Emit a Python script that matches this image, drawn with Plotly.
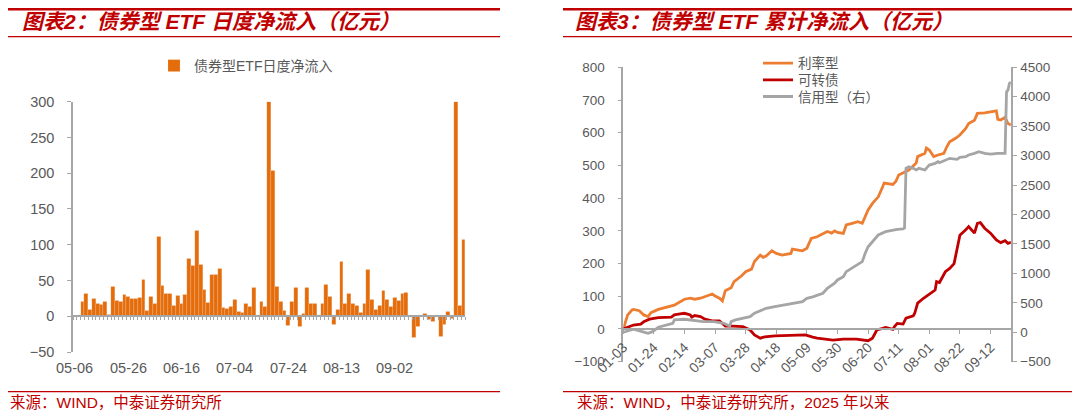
import plotly.graph_objects as go

# the page puts the figure 8px in from the top-left corner of the window
OFF = 8
W, H = 1080 - OFF, 416 - OFF

# ---- 图表2：债券型ETF日度净流入（亿元） ----
flow_dates = [
    "05-06", "05-07", "05-08", "05-09", "05-12", "05-13", "05-14", "05-15", "05-16", "05-19",
    "05-20", "05-21", "05-22", "05-23", "05-26", "05-27", "05-28", "05-29", "05-30",
    "06-03", "06-04", "06-05", "06-06", "06-09", "06-10", "06-11", "06-12", "06-13", "06-16",
    "06-17", "06-18", "06-19", "06-20", "06-23", "06-24", "06-25", "06-26", "06-27", "06-30",
    "07-01", "07-02", "07-03", "07-04", "07-07", "07-08", "07-09", "07-10", "07-11", "07-14",
    "07-15", "07-16", "07-17", "07-18", "07-21", "07-22", "07-23", "07-24", "07-25", "07-28",
    "07-29", "07-30", "07-31",
    "08-01", "08-04", "08-05", "08-06", "08-07", "08-08", "08-11", "08-12", "08-13", "08-14",
    "08-15", "08-18", "08-19", "08-20", "08-21", "08-22", "08-25", "08-26", "08-27", "08-28",
    "08-29",
    "09-01", "09-02", "09-03", "09-04", "09-05", "09-08", "09-09", "09-10", "09-11", "09-12",
    "09-15", "09-16", "09-17", "09-18", "09-19", "09-22", "09-23", "09-24", "09-25", "09-26",
]
daily_flow = [
    0, 0, 20, 31, 9, 25, 17, 16, 21, 2,
    42, 22, 21, 30, 28, 25, 24, 26, 51,
    8, 28, 18, 111, 43, 31, 32, 15, 29, 17,
    30, 81, 70, 120, 72, 37, 19, 58, 58, 67,
    12, 10, 14, 23, 6, 5, 17, 13, 40, 1,
    20, 14, 300, 204, 42, 20, 8, -13, 21, 40,
    -14, 3, 40,
    17, 18, 0, 18, 44, 28, -12, 9, 76, 17,
    32, 18, 15, 5, 17, 65, 23, 9, 15, 36,
    23,
    13, 26, 22, 31, 33, 0, -30, -15, 0, 4,
    -5, -8, 0, -28, -12, 7, -4, 300, 15, 107,
]
flow_ticks = ["05-06", "05-26", "06-16", "07-04", "07-24", "08-13", "09-02"]

# ---- 图表3：债券型ETF累计净流入（亿元） ----
rate_dates = [
    "2025-01-03", "2025-01-06", "2025-01-09", "2025-01-10", "2025-01-14", "2025-01-17",
    "2025-01-20", "2025-01-22", "2025-01-27", "2025-02-05", "2025-02-07", "2025-02-11",
    "2025-02-14", "2025-02-18", "2025-02-21", "2025-02-25", "2025-02-28", "2025-03-05",
    "2025-03-07", "2025-03-10", "2025-03-12", "2025-03-13", "2025-03-14", "2025-03-18",
    "2025-03-20", "2025-03-25", "2025-03-28", "2025-04-01", "2025-04-03", "2025-04-07",
    "2025-04-09", "2025-04-11", "2025-04-15", "2025-04-18", "2025-04-22", "2025-04-28",
    "2025-04-29", "2025-05-06", "2025-05-07", "2025-05-09", "2025-05-12", "2025-05-16",
    "2025-05-23", "2025-05-26", "2025-05-28", "2025-05-30", "2025-06-03", "2025-06-05",
    "2025-06-09", "2025-06-13", "2025-06-16", "2025-06-20", "2025-06-23", "2025-06-25",
    "2025-06-27", "2025-06-30", "2025-07-01", "2025-07-07", "2025-07-09", "2025-07-11",
    "2025-07-15", "2025-07-18", "2025-07-23", "2025-07-24", "2025-07-29", "2025-07-30",
    "2025-08-01", "2025-08-04", "2025-08-07", "2025-08-11", "2025-08-13", "2025-08-15",
    "2025-08-19", "2025-08-22", "2025-08-26", "2025-08-28", "2025-09-01", "2025-09-03",
    "2025-09-08", "2025-09-12", "2025-09-16", "2025-09-17", "2025-09-19", "2025-09-22",
    "2025-09-24", "2025-09-26",
]
rate_vals = [
    0, 43, 58, 60, 56, 43,
    38, 50, 60, 70, 73, 83,
    91, 94, 91, 94, 99, 107,
    101, 94, 86, 104, 117, 126,
    145, 162, 175, 183, 206, 226,
    219, 223, 239, 231, 226, 231,
    244, 239, 242, 247, 277, 282,
    298, 293, 300, 295, 292, 318,
    323, 328, 323, 364, 384, 394,
    404, 435, 446, 442, 451, 471,
    481, 486, 507, 527, 537, 553,
    547, 527, 532, 537, 557, 572,
    583, 593, 613, 628, 638, 659,
    661, 664, 667, 641, 639, 647,
    628, 624,
]

cb_dates = [
    "2025-01-03", "2025-01-07", "2025-01-10", "2025-01-15", "2025-01-17", "2025-01-21",
    "2025-01-27", "2025-02-05", "2025-02-07", "2025-02-11", "2025-02-14", "2025-02-18",
    "2025-02-19", "2025-02-21", "2025-02-25", "2025-02-28", "2025-03-05", "2025-03-10",
    "2025-03-12", "2025-03-14", "2025-03-19", "2025-03-26", "2025-03-31", "2025-04-03",
    "2025-04-07", "2025-04-10", "2025-04-17", "2025-04-29", "2025-05-08", "2025-05-13",
    "2025-05-16", "2025-05-27", "2025-06-03", "2025-06-12", "2025-06-20", "2025-06-23",
    "2025-06-26", "2025-06-30", "2025-07-02", "2025-07-07", "2025-07-08", "2025-07-10",
    "2025-07-14", "2025-07-16", "2025-07-21", "2025-07-22", "2025-07-24", "2025-07-28",
    "2025-08-01", "2025-08-05", "2025-08-06", "2025-08-08", "2025-08-12", "2025-08-15",
    "2025-08-18", "2025-08-20", "2025-08-21", "2025-08-22", "2025-08-26", "2025-08-28",
    "2025-08-29", "2025-09-01", "2025-09-03", "2025-09-05", "2025-09-08", "2025-09-12",
    "2025-09-16", "2025-09-19", "2025-09-22", "2025-09-24", "2025-09-26",
]
cb_vals = [
    0, 7, 12, 15, 22, 30,
    35, 36, 43, 46, 48, 43,
    36, 41, 38, 30, 25, 25,
    17, 9, 9, 7, -3, -18,
    -28, -24, -21, -18, -18, -25,
    -28, -34, -31, -31, -36, -28,
    -3, 2, 5, -1, 7, 17,
    15, 33, 40, 48, 79, 94,
    107, 119, 145, 142, 175, 185,
    200, 241, 272, 287, 303, 313,
    308, 293, 323, 325, 308, 293,
    272, 264, 270, 262, 265,
]

credit_dates = [
    "2025-01-03", "2025-01-10", "2025-01-16", "2025-01-20", "2025-01-23", "2025-01-27",
    "2025-02-06", "2025-02-07", "2025-02-14", "2025-02-20", "2025-02-27", "2025-03-06",
    "2025-03-13", "2025-03-17", "2025-03-18", "2025-03-21", "2025-03-26", "2025-03-31",
    "2025-04-03", "2025-04-08", "2025-04-11", "2025-04-17", "2025-04-23", "2025-04-28",
    "2025-05-06", "2025-05-08", "2025-05-09", "2025-05-13", "2025-05-16", "2025-05-20",
    "2025-05-23", "2025-05-28", "2025-05-30", "2025-06-03", "2025-06-05", "2025-06-09",
    "2025-06-12", "2025-06-16", "2025-06-18", "2025-06-20", "2025-06-24", "2025-06-26",
    "2025-06-27", "2025-07-02", "2025-07-07", "2025-07-10", "2025-07-14", "2025-07-15",
    "2025-07-16", "2025-07-18", "2025-07-21", "2025-07-23", "2025-07-25", "2025-07-29",
    "2025-07-31", "2025-08-01", "2025-08-05", "2025-08-07", "2025-08-08", "2025-08-12",
    "2025-08-15", "2025-08-20", "2025-08-22", "2025-08-26", "2025-08-28", "2025-09-01",
    "2025-09-04", "2025-09-08", "2025-09-12", "2025-09-17", "2025-09-22", "2025-09-23",
    "2025-09-24", "2025-09-25", "2025-09-26",
]
credit_vals = [
    0, 51, 10, -17, 10, 85,
    153, 209, 221, 197, 180, 180,
    153, 107, 180, 209, 238, 265,
    323, 379, 407, 435, 463, 492,
    520, 560, 577, 600, 630, 662,
    747, 832, 888, 944, 1029, 1087,
    1143, 1199, 1341, 1453, 1567, 1623,
    1652, 1708, 1737, 1749, 1755, 1770,
    2784, 2812, 2784, 2756, 2784, 2756,
    2812, 2840, 2869, 2897, 2880, 2925,
    2954, 2937, 2971, 2982, 3010, 3039,
    3066, 3039, 3027, 3039, 3039, 4085,
    4114, 4227, 4250,
]
date_ticks_start = "2025-01-03"
date_ticks_step_days = 21


# reference pixel -> paper fraction
def fx(px):
    return (px - OFF) / W


def fy(py):
    return 1 - (py - OFF) / H


RED = "#C00000"
TXT = "#595959"
AX = "#A6A6A6"
NUM = "Liberation Sans, Arial, sans-serif"
MIX = "Liberation Sans, Noto Sans CJK SC, sans-serif"

# plot areas (pixels)
L_dom_x = [fx(73), fx(465.4)]
L_dom_y = [fy(352), fy(101.7)]
L_range = [-50, 300]
R_dom_x = [fx(623.3), fx(1010.9)]
R_dom_y = [fy(361.7), fy(67.3)]
R_range = [-100, 800]
R2_range = [-500, 4500]


def zero_pos(dom, rng):
    return dom[0] + (0 - rng[0]) / (rng[1] - rng[0]) * (dom[1] - dom[0])


fig = go.Figure()

fig.add_trace(go.Bar(
    x=flow_dates, y=daily_flow, name="债券型ETF日度净流入",
    marker=dict(color="#E46C0A", line=dict(color="rgba(255,255,255,0.45)", width=0.35)),
    xaxis="x", yaxis="y", legend="legend",
))
fig.add_trace(go.Scatter(
    x=rate_dates, y=rate_vals, name="利率型", mode="lines",
    line=dict(color="#ED7D31", width=2.8),
    xaxis="x2", yaxis="y2", legend="legend2",
))
fig.add_trace(go.Scatter(
    x=cb_dates, y=cb_vals, name="可转债", mode="lines",
    line=dict(color=RED, width=2.8),
    xaxis="x2", yaxis="y2", legend="legend3",
))
fig.add_trace(go.Scatter(
    x=credit_dates, y=credit_vals, name="信用型（右）", mode="lines",
    line=dict(color="#A5A5A5", width=2.8),
    xaxis="x2", yaxis="y3", legend="legend4",
))

tick_font_L = dict(family=NUM, size=14.5, color=TXT)
tick_font_R = dict(family=NUM, size=13.5, color=TXT)

legend_common = dict(
    xanchor="left", yanchor="middle", bgcolor="rgba(0,0,0,0)",
    font=dict(family=MIX, size=13.5, color=TXT), itemclick=False,
)

fig.update_layout(
    width=W, height=H,
    margin=dict(l=0, r=0, t=0, b=0, autoexpand=False),
    paper_bgcolor="white", plot_bgcolor="rgba(0,0,0,0)",
    showlegend=True,
    bargap=0,
    # left chart: category axis sits on the zero line, one tick per day
    xaxis=dict(
        domain=L_dom_x, anchor="free", position=zero_pos(L_dom_y, L_range), automargin=False,
        type="category", range=[-0.5, len(flow_dates) - 0.5], autorange=False,
        tickmode="linear", tick0=0, dtick=1, tickson="boundaries",
        ticks="outside", ticklen=3, tickwidth=1, tickcolor=AX,
        showline=True, linecolor=AX, linewidth=1.5,
        showticklabels=False, showgrid=False, zeroline=False,
    ),
    yaxis=dict(
        domain=L_dom_y, anchor="x", range=L_range, dtick=50, automargin=False,
        ticks="outside", ticklen=4, tickcolor=AX, showline=True, linecolor=AX, linewidth=1.5,
        showgrid=False, zeroline=False, tickfont=tick_font_L, ticklabelstandoff=10,
    ),
    # right chart
    xaxis2=dict(
        domain=R_dom_x, anchor="free", position=zero_pos(R_dom_y, R_range), automargin=False,
        type="date", range=["2025-01-03", "2025-09-26"],
        tick0=date_ticks_start, dtick=date_ticks_step_days * 86400000, tickformat="%m-%d",
        tickangle=-45, ticks="outside", ticklen=4, tickcolor=AX,
        showline=True, linecolor=AX, linewidth=1.5, showgrid=False, zeroline=False,
        tickfont=dict(family=NUM, size=14, color=TXT),
    ),
    yaxis2=dict(
        domain=R_dom_y, anchor="x2", range=R_range, dtick=100, automargin=False,
        ticks="outside", ticklen=4, tickcolor=AX, showline=True, linecolor=AX, linewidth=1.5,
        showgrid=False, zeroline=False, tickfont=tick_font_R, ticklabelstandoff=10,
    ),
    yaxis3=dict(
        domain=R_dom_y, side="right", anchor="x2", range=R2_range, dtick=500, automargin=False,
        ticks="outside", ticklen=4, tickcolor=AX, showline=True, linecolor=AX, linewidth=1.5,
        showgrid=False, zeroline=False, tickfont=tick_font_R, ticklabelstandoff=1,
    ),
    legend=dict(legend_common, x=fx(154), y=fy(66), font=dict(family=MIX, size=14, color=TXT)),
    legend2=dict(legend_common, x=fx(758), y=fy(63.3)),
    legend3=dict(legend_common, x=fx(758), y=fy(80)),
    legend4=dict(legend_common, x=fx(758), y=fy(96.7)),
)

# date labels of the left chart sit at the bottom edge, under the -50 level
for d in flow_ticks:
    fig.add_annotation(xref="x", yref="paper", x=d, y=fy(368), xanchor="center", yanchor="middle",
                       text=d, showarrow=False, font=tick_font_L)

# header / footer rules
shapes = []
for x0, x1 in [(8, 500), (563, 1073)]:
    shapes.append(dict(type="line", xref="paper", yref="paper", x0=fx(x0), x1=fx(x1),
                       y0=fy(9.3), y1=fy(9.3), line=dict(color=RED, width=2.6)))
    shapes.append(dict(type="line", xref="paper", yref="paper", x0=fx(x0), x1=fx(x1),
                       y0=fy(36.7), y1=fy(36.7), line=dict(color=RED, width=1.3)))
    shapes.append(dict(type="line", xref="paper", yref="paper", x0=fx(x0), x1=fx(x1),
                       y0=fy(391.7), y1=fy(391.7), line=dict(color=RED, width=1.3)))
fig.update_layout(shapes=shapes)

titles = [
    (20, "图表2：债券型 ETF 日度净流入（亿元）"),
    (573, "图表3：债券型 ETF 累计净流入（亿元）"),
]
for x, t in titles:
    fig.add_annotation(xref="paper", yref="paper", x=fx(x), y=fy(22), xanchor="left", yanchor="middle",
                       text="<b><i>" + t + "</i></b>", showarrow=False,
                       font=dict(family=MIX, size=21, color=RED))

sources = [
    (8, "来源：WIND，中泰证券研究所"),
    (575, "来源：WIND，中泰证券研究所，2025 年以来"),
]
for x, t in sources:
    fig.add_annotation(xref="paper", yref="paper", x=fx(x), y=fy(402), xanchor="left", yanchor="middle",
                       text=t, showarrow=False, font=dict(family=MIX, size=15.5, color=RED))

fig.write_html("out.html")
